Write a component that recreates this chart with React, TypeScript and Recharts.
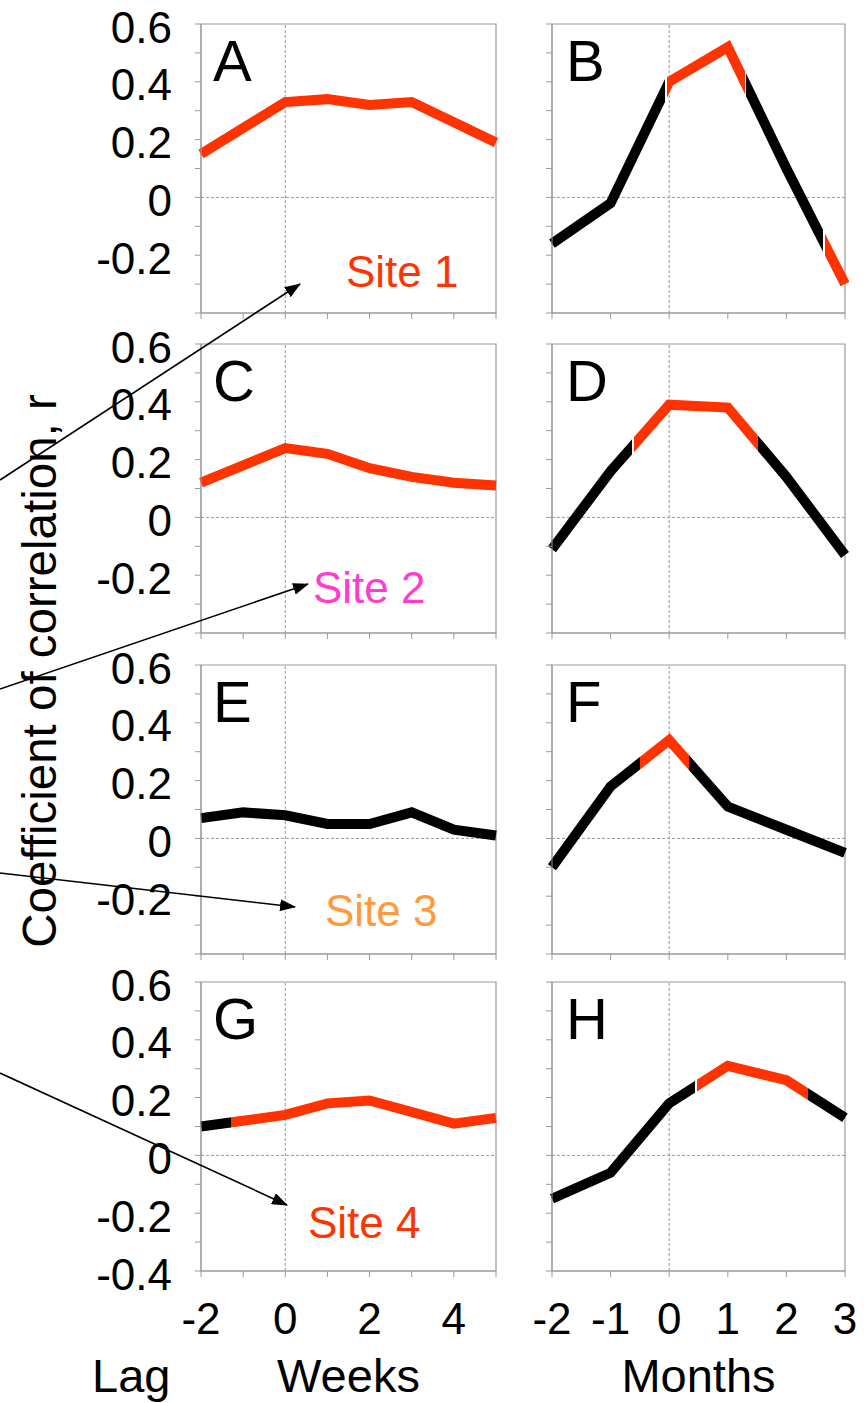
import React from 'react';
import { LineChart, Line, XAxis, YAxis, ReferenceLine, ReferenceArea } from 'recharts';

// ---------- data ----------
const weeks = [-2, -1, 0, 1, 2, 3, 4, 5];
const months = [-2, -1, 0, 1, 2, 3];

const siteA = [0.15, 0.24, 0.33, 0.34, 0.32, 0.33, 0.26, 0.19];
const siteB = [-0.16, -0.02, 0.4, 0.52, 0.1, -0.3];
const siteC = [0.12, 0.18, 0.24, 0.22, 0.17, 0.14, 0.12, 0.11];
const siteD = [-0.11, 0.16, 0.39, 0.38, 0.14, -0.13];
const siteE = [0.07, 0.09, 0.08, 0.05, 0.05, 0.09, 0.03, 0.01];
const siteF = [-0.1, 0.18, 0.34, 0.11, 0.03, -0.05];
const siteG = [0.1, 0.12, 0.14, 0.18, 0.19, 0.15, 0.11, 0.13];
const siteH = [-0.15, -0.06, 0.18, 0.31, 0.26, 0.13];

const RED = '#ff3300';
const BLACK = '#000000';

// colour runs: colours[i] is used up to breaks[i] (lag units); gaps[i] = white gap at that break
const colorsA = [RED];
const breaksA: number[] = [];
const gapsA: boolean[] = [];
const colorsB = [BLACK, RED, BLACK, RED];
const breaksB = [-0.06, 1.3, 2.64];
const gapsB = [true, true, true];
const colorsC = [RED];
const breaksC: number[] = [];
const gapsC: boolean[] = [];
const colorsD = [BLACK, RED, BLACK];
const breaksD = [-0.62, 1.52];
const gapsD = [true, false];
const colorsE = [BLACK];
const breaksE: number[] = [];
const gapsE: boolean[] = [];
const colorsF = [BLACK, RED, BLACK];
const breaksF = [-0.49, 0.33];
const gapsF = [false, false];
const colorsG = [BLACK, RED];
const breaksG = [-1.3];
const gapsG = [false];
const colorsH = [BLACK, RED, BLACK];
const breaksH = [0.46, 2.37];
const gapsH = [true, false];

const yTicks = [-0.4, -0.3, -0.2, -0.1, 0, 0.1, 0.2, 0.3, 0.4, 0.5, 0.6];
const yLabels = ['0.6', '0.4', '0.2', '0', '-0.2'];
const yLabelsBottom = ['0.6', '0.4', '0.2', '0', '-0.2', '-0.4'];
const weekLabels = ['-2', '0', '2', '4'];
const monthLabels = ['-2', '-1', '0', '1', '2', '3'];
const panelLetters = ['A', 'B', 'C', 'D', 'E', 'F', 'G', 'H'];
const siteNames = ['Site 1', 'Site 2', 'Site 3', 'Site 4'];
const siteColors = ['#ff3300', '#ff3ccf', '#ff9a3c', '#ff3300'];

// ---------- layout ----------
const FONT = '"Liberation Sans", Arial, Helvetica, sans-serif';
const ROW_TOPS = [24, 344, 665, 982];
const PLOT_H = 289;
const LEFT_X = 201;
const LEFT_W = 295;
const RIGHT_X = 552;
const RIGHT_W = 293;
const GRAY = '#9a9a9a';
const GAP = 0.015;

const fmt = (v: number) => {
  const r = Math.round(v * 10) / 10;
  return r === 0 ? '0' : String(r);
};

function makeStops(breaks: number[], colors: string[], gaps: boolean[], xmin: number, xmax: number) {
  const span = xmax - xmin;
  const out: { o: number; c: string }[] = [];
  let start = 0;
  colors.forEach((c, i) => {
    const hasBreak = i < breaks.length;
    const end = hasBreak ? (breaks[i] - xmin) / span : 1;
    const g = hasBreak && gaps[i] ? GAP / span : 0;
    out.push({ o: start, c });
    out.push({ o: end - g, c });
    if (g > 0) {
      out.push({ o: end - g, c: '#ffffff' });
      out.push({ o: end + g, c: '#ffffff' });
    }
    start = end + g;
  });
  return out;
}

const makeYTick = (labels: string[]) => (props: any) => {
  const { x, y, payload } = props;
  const s = fmt(payload.value);
  if (!labels.includes(s)) return <g />;
  return (
    <text x={x} y={y + 3} dy="0.355em" textAnchor="end" fontSize={44} fill="#000" fontFamily={FONT}>
      {s}
    </text>
  );
};

const makeXTick = (labels: string[]) => (props: any) => {
  const { x, y, payload } = props;
  const s = String(payload.value);
  if (!labels.includes(s)) return <g />;
  return (
    <text x={x} y={y} dy="0.71em" textAnchor="middle" fontSize={44} fill="#000" fontFamily={FONT}>
      {s}
    </text>
  );
};

type PanelProps = {
  id: string;
  xs: number[];
  ys: number[];
  isLeft: boolean;
  row: number;
};

function Panel({ id, xs, ys, isLeft, row }: PanelProps) {
  const plotLeft = isLeft ? LEFT_X : RIGHT_X;
  const plotW = isLeft ? LEFT_W : RIGHT_W;
  const plotTop = ROW_TOPS[row];
  const bottomRow = row === 3;
  const padL = isLeft ? LEFT_X : 20;
  const padT = 24;
  const padR = 24;
  const padB = bottomRow ? 100 : 12;
  const data = xs.map((lag, i) => ({ lag, r: ys[i] }));
  const xmin = xs[0];
  const xmax = xs[xs.length - 1];
  const yLab = isLeft ? (bottomRow ? yLabelsBottom : yLabels) : [];
  const xLab = bottomRow ? (isLeft ? weekLabels : monthLabels) : [];
  return (
    <div style={{ position: 'absolute', left: plotLeft - padL, top: plotTop - padT }}>
      <LineChart
        width={padL + plotW + padR}
        height={padT + PLOT_H + padB}
        data={data}
        margin={{ top: padT, right: padR, bottom: 0, left: 0 }}
      >
        <XAxis
          dataKey="lag"
          type="number"
          domain={[xmin, xmax]}
          ticks={xs}
          interval={0}
          height={padB}
          tickSize={6}
          tickMargin={26}
          axisLine={{ stroke: GRAY }}
          tickLine={{ stroke: GRAY }}
          tick={makeXTick(xLab)}
        />
        <YAxis
          type="number"
          domain={[-0.4, 0.6]}
          ticks={yTicks}
          interval={0}
          width={padL}
          tickSize={6}
          tickMargin={23}
          axisLine={{ stroke: GRAY }}
          tickLine={{ stroke: GRAY }}
          tick={makeYTick(yLab)}
        />
        <ReferenceArea x1={xmin} x2={xmax} y1={-0.4} y2={0.6} fill="none" fillOpacity={0} stroke={GRAY} strokeWidth={1.2} />
        <ReferenceLine y={0} stroke="#999" strokeDasharray="3 2" />
        <ReferenceLine x={0} stroke="#999" strokeDasharray="3 2" />
        <Line
          type="linear"
          dataKey="r"
          stroke={`url(#${id})`}
          strokeWidth={10}
          dot={false}
          activeDot={false}
          isAnimationActive={false}
        />
      </LineChart>
    </div>
  );
}

const panels = [
  { id: 'gA', xs: weeks, ys: siteA, colors: colorsA, breaks: breaksA, gaps: gapsA, isLeft: true, row: 0 },
  { id: 'gB', xs: months, ys: siteB, colors: colorsB, breaks: breaksB, gaps: gapsB, isLeft: false, row: 0 },
  { id: 'gC', xs: weeks, ys: siteC, colors: colorsC, breaks: breaksC, gaps: gapsC, isLeft: true, row: 1 },
  { id: 'gD', xs: months, ys: siteD, colors: colorsD, breaks: breaksD, gaps: gapsD, isLeft: false, row: 1 },
  { id: 'gE', xs: weeks, ys: siteE, colors: colorsE, breaks: breaksE, gaps: gapsE, isLeft: true, row: 2 },
  { id: 'gF', xs: months, ys: siteF, colors: colorsF, breaks: breaksF, gaps: gapsF, isLeft: false, row: 2 },
  { id: 'gG', xs: weeks, ys: siteG, colors: colorsG, breaks: breaksG, gaps: gapsG, isLeft: true, row: 3 },
  { id: 'gH', xs: months, ys: siteH, colors: colorsH, breaks: breaksH, gaps: gapsH, isLeft: false, row: 3 },
];

// site label anchor (left, baseline) and arrows (tail -> head), annotation layer
const sitePos = [
  [346, 287],
  [313, 603],
  [325, 926],
  [308, 1238],
];
const arrows = [
  [0, 480, 300, 284],
  [0, 689, 308, 584],
  [0, 873, 295, 907],
  [0, 1073, 287, 1205],
];

export default function App() {
  return (
    <div style={{ position: 'absolute', left: 0, top: 0, width: 867, height: 1403, background: '#fff', overflow: 'hidden' }}>
      <svg width={0} height={0} style={{ position: 'absolute' }}>
        <defs>
          {panels.map((p) => (
            <linearGradient key={p.id} id={p.id} x1="0" y1="0" x2="1" y2="0">
              {makeStops(p.breaks, p.colors, p.gaps, p.xs[0], p.xs[p.xs.length - 1]).map((s, i) => (
                <stop key={i} offset={s.o} stopColor={s.c} />
              ))}
            </linearGradient>
          ))}
        </defs>
      </svg>
      {panels.map((p) => (
        <Panel key={p.id} id={p.id} xs={p.xs} ys={p.ys} isLeft={p.isLeft} row={p.row} />
      ))}
      <svg width={867} height={1403} style={{ position: 'absolute', left: 0, top: 0, pointerEvents: 'none' }}>
        <defs>
          <marker id="arrowHead" markerWidth="16" markerHeight="12" refX="15" refY="6" orient="auto" markerUnits="userSpaceOnUse">
            <path d="M0,0 L16,6 L0,12 Z" fill="#000" />
          </marker>
        </defs>
        {panels.map((p, i) => (
          <text
            key={p.id}
            x={(p.isLeft ? LEFT_X + 12 : RIGHT_X + 14)}
            y={ROW_TOPS[p.row] + 57}
            fontSize={58}
            fontFamily={FONT}
            fill="#000"
          >
            {panelLetters[i]}
          </text>
        ))}
        {siteNames.map((s, i) => (
          <text key={s} x={sitePos[i][0]} y={sitePos[i][1]} fontSize={44} fontFamily={FONT} fill={siteColors[i]}>
            {s}
          </text>
        ))}
        {arrows.map((a, i) => (
          <line key={i} x1={a[0]} y1={a[1]} x2={a[2]} y2={a[3]} stroke="#000" strokeWidth={1.6} markerEnd="url(#arrowHead)" />
        ))}
        <text
          transform="translate(56,671) rotate(-90)"
          textAnchor="middle"
          fontSize={47.5}
          fontFamily={FONT}
          fill="#000"
        >
          Coefficient of correlation, r
        </text>
        <text x={92} y={1392} fontSize={47} fontFamily={FONT} fill="#000">Lag</text>
        <text x={LEFT_X + LEFT_W / 2} y={1392} textAnchor="middle" fontSize={47} fontFamily={FONT} fill="#000">Weeks</text>
        <text x={RIGHT_X + RIGHT_W / 2} y={1392} textAnchor="middle" fontSize={47} fontFamily={FONT} fill="#000">Months</text>
      </svg>
    </div>
  );
}
